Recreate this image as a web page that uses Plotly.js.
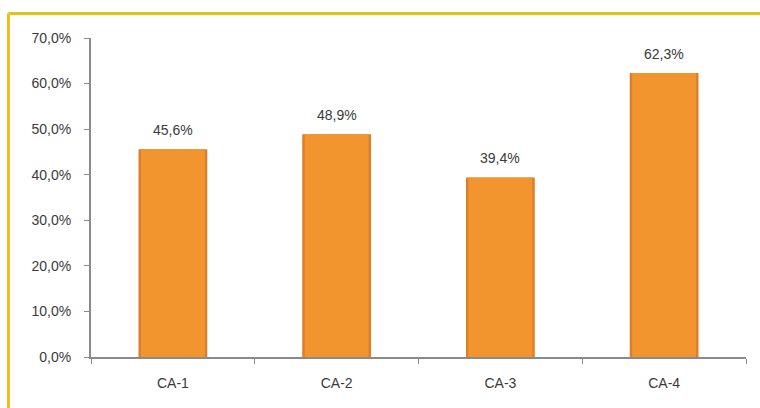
<!DOCTYPE html>
<html>
<head>
<meta charset="utf-8">
<script src="https://cdn.plot.ly/plotly-3.0.1.min.js"></script>
<style>html,body{margin:0;padding:0;background:#fff;}#chart{width:760px;height:408px;}</style>
</head>
<body>
<div id="chart"></div>
<script>
const categories = ["CA-1", "CA-2", "CA-3", "CA-4"];
const values = [45.6, 48.9, 39.4, 62.3];
const yTicks = [0, 10, 20, 30, 40, 50, 60, 70];
const yTickLabels = ["0,0%", "10,0%", "20,0%", "30,0%", "40,0%", "50,0%", "60,0%", "70,0%"];
const valueLabels = ["45,6%", "48,9%", "39,4%", "62,3%"];

const font = {family: "Liberation Sans, Arial, sans-serif", size: 14, color: "#3a3a3a"};

const traces = [
  {
    type: "bar", x: categories, y: values, width: 0.42,
    marker: {color: "#DE7D2A", line: {width: 0}},
    hoverinfo: "skip", showlegend: false
  },
  {
    type: "bar", x: categories, y: values, width: 0.39,
    marker: {color: "#F2952F", line: {width: 0}},
    showlegend: false
  }
];

const annotations = categories.map((c, i) => ({
  x: c, y: values[i], xref: "x", yref: "y",
  text: valueLabels[i], showarrow: false,
  yanchor: "bottom", yshift: 9, font: font
}));

const layout = {
  width: 760, height: 408,
  margin: {l: 91, r: 14, t: 38, b: 51},
  paper_bgcolor: "#fff", plot_bgcolor: "#fff",
  barmode: "overlay",
  font: font,
  showlegend: false,
  annotations: annotations,
  xaxis: {
    type: "category",
    showline: true, linecolor: "#8a8a8a", linewidth: 2,
    ticks: "outside", tickson: "boundaries", ticklen: 5, tickcolor: "#8a8a8a",
    ticklabelstandoff: 12,
    showgrid: false, zeroline: false, fixedrange: true
  },
  yaxis: {
    range: [0, 70], tickvals: yTicks, ticktext: yTickLabels,
    showline: true, linecolor: "#8a8a8a", linewidth: 2,
    ticks: "outside", ticklen: 5, tickcolor: "#8a8a8a",
    ticklabelstandoff: 10,
    showgrid: false, zeroline: false, fixedrange: true
  },
  shapes: [
    {type: "line", xref: "paper", yref: "paper", x0: -0.126, x1: 1.03, y0: 1.077, y1: 1.077,
     line: {color: "#E6C01E", width: 3}},
    {type: "line", xref: "paper", yref: "paper", x0: -0.126, x1: -0.126, y0: -0.2, y1: 1.077,
     line: {color: "#E6C01E", width: 3}}
  ]
};

Plotly.newPlot("chart", traces, layout, {displayModeBar: false, staticPlot: true});
</script>
</body>
</html>
